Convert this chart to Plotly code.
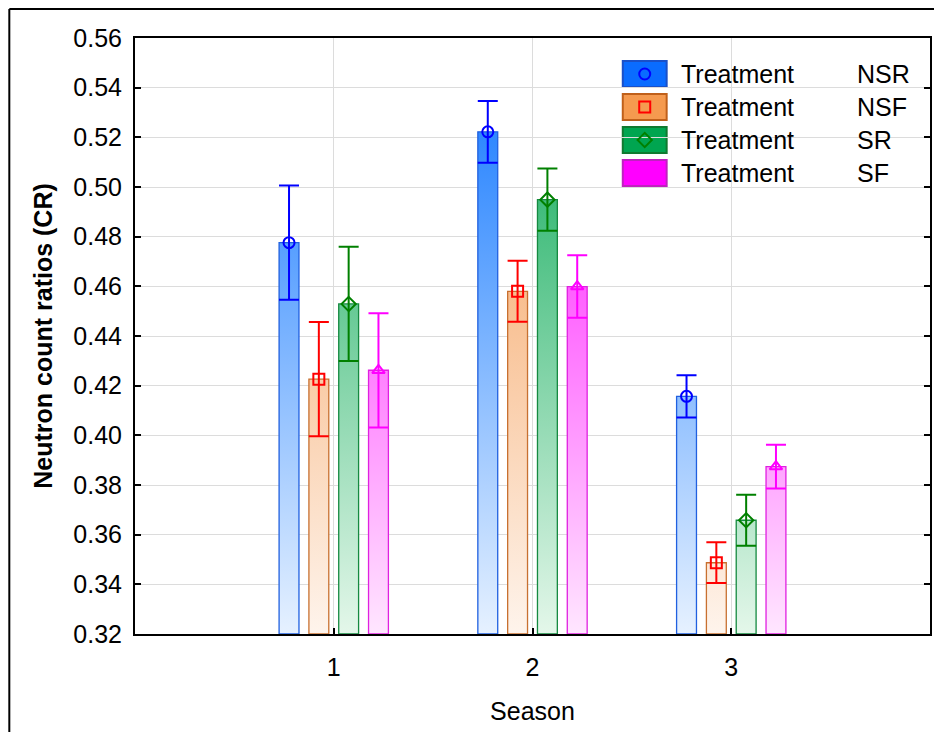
import plotly.graph_objects as go

# ---------------- data ----------------
seasons = [1, 2, 3]
season_labels = ["1", "2", "3"]
treatments = ["NSR", "NSF", "SR", "SF"]

nsr_mean = [0.4776, 0.5222, 0.4157]
nsr_err = [0.0230, 0.0124, 0.0085]
nsf_mean = [0.4226, 0.4580, 0.3487]
nsf_err = [0.0230, 0.0123, 0.0082]
sr_mean = [0.4529, 0.4949, 0.3658]
sr_err = [0.0230, 0.0125, 0.0103]
sf_mean = [0.4262, 0.4599, 0.3874]
sf_err = [0.0230, 0.0126, 0.0088]

y_tick_vals = [0.32, 0.34, 0.36, 0.38, 0.40, 0.42, 0.44, 0.46, 0.48, 0.50, 0.52, 0.54, 0.56]
y_tick_text = ["0.32", "0.34", "0.36", "0.38", "0.40", "0.42", "0.44", "0.46", "0.48", "0.50", "0.52", "0.54", "0.56"]

means = [nsr_mean, nsf_mean, sr_mean, sf_mean]
errs = [nsr_err, nsf_err, sr_err, sf_err]

# ---------------- style ----------------
Y_MIN, Y_MAX = 0.32, 0.56
X_MIN, X_MAX = 0, 4
offsets = [-0.225, -0.075, 0.075, 0.225]
bar_w = 0.1
full_col = ["#0C74FF", "#F4964A", "#00A550", "#FF00FF"]
pale_col = ["#E6F1FF", "#FEF4EC", "#E4F7EA", "#FFE6FF"]
edge_col = ["#2060E0", "#C87030", "#158A40", "#E020E0"]
err_col = ["#0000FF", "#FF0000", "#008000", "#FF00FF"]
symbols = ["circle-open", "square-open", "diamond-open", "triangle-up-open"]
legend_box = ["#0A6CFF", "#F59A4F", "#00A550", "#FF00FF"]
legend_edge = ["#1A50C8", "#C0601A", "#107A30", "#C020C0"]
legend_mark = ["circle-open", "square-open", "diamond-open", None]
legend_mark_col = ["#0000FF", "#FF0000", "#008000", None]
FS = 25

# page body adds an 8px offset on every side; geometry below is in window pixels
OFF = 8
W, H = 942 - 2 * OFF, 740 - 2 * OFF
PL, PR, PT, PB = 135, 932, 38, 634        # plot area in window pixels
ML, MT = PL - OFF, PT - OFF
MR, MB = W - (PR - OFF), H - (PB - OFF)
PW = PR - PL
PH = PB - PT


def px_x(px):
    return (px - PL) / PW


def px_y(py):
    return (PB - py) / PH


fig = go.Figure()

# bars with vertical gradient (absolute along the y axis)
for i, name in enumerate(treatments):
    for j, s in enumerate(seasons):
        c = s + offsets[i]
        v = means[i][j]
        fig.add_trace(go.Scatter(
            x=[c - bar_w / 2, c - bar_w / 2, c + bar_w / 2, c + bar_w / 2, c - bar_w / 2],
            y=[Y_MIN, v, v, Y_MIN, Y_MIN],
            mode="lines",
            fill="toself",
            fillgradient=dict(type="vertical",
                              colorscale=[[0, pale_col[i]], [1, full_col[i]]],
                              start=Y_MIN, stop=Y_MAX),
            line=dict(color=edge_col[i], width=1.3),
            hoverinfo="skip",
            showlegend=False,
        ))

# means with error bars
for i, name in enumerate(treatments):
    fig.add_trace(go.Scatter(
        x=[s + offsets[i] for s in seasons],
        y=means[i],
        mode="markers",
        name="Treatment " + name,
        marker=dict(symbol=symbols[i], size=11, color=err_col[i],
                    line=dict(color=err_col[i], width=2)),
        error_y=dict(type="data", array=errs[i], color=err_col[i],
                     thickness=2, width=10),
        showlegend=False,
    ))

# manual legend
shapes = []
annotations = []
row_top = [61, 94, 127, 160]
box_h = 26
box_x0, box_x1 = 624, 668
for i, name in enumerate(treatments):
    y0 = row_top[i]
    shapes.append(dict(type="rect", xref="paper", yref="paper", layer="between",
                       x0=px_x(box_x0), x1=px_x(box_x1),
                       y0=px_y(y0 + box_h), y1=px_y(y0),
                       fillcolor=legend_box[i],
                       line=dict(color=legend_edge[i], width=2)))
    yc = px_y(y0 + box_h / 2)
    annotations.append(dict(xref="paper", yref="paper", x=px_x(680), y=yc,
                            text="Treatment", showarrow=False, xanchor="left",
                            yanchor="middle", font=dict(size=FS, color="black")))
    annotations.append(dict(xref="paper", yref="paper", x=px_x(857), y=yc,
                            text=name, showarrow=False, xanchor="left",
                            yanchor="middle", font=dict(size=FS, color="black")))
    if legend_mark[i]:
        fig.add_trace(go.Scatter(
            x=[px_x((box_x0 + box_x1) / 2)], y=[yc], xaxis="x2", yaxis="y2",
            mode="markers",
            marker=dict(symbol=legend_mark[i], size=11, color=legend_mark_col[i],
                        line=dict(color=legend_mark_col[i], width=2)),
            hoverinfo="skip", showlegend=False,
        ))

# outer frame (top and left edges)
FR = OFF + 1
shapes.append(dict(type="line", xref="paper", yref="paper",
                   x0=px_x(FR), x1=px_x(990), y0=px_y(FR), y1=px_y(FR),
                   line=dict(color="black", width=2)))
shapes.append(dict(type="line", xref="paper", yref="paper",
                   x0=px_x(FR), x1=px_x(FR), y0=px_y(FR), y1=px_y(790),
                   line=dict(color="black", width=2)))

fig.update_layout(
    width=W, height=H,
    margin=dict(l=ML, r=MR, t=MT, b=MB),
    paper_bgcolor="white", plot_bgcolor="white",
    font=dict(family="Liberation Sans, Arial, sans-serif", size=FS, color="black"),
    showlegend=False,
    shapes=shapes,
    annotations=annotations,
    xaxis=dict(range=[X_MIN, X_MAX], tickvals=seasons, ticktext=season_labels,
               showgrid=True, gridcolor="#DCDCDC", gridwidth=1,
               ticks="inside", ticklen=6, tickcolor="black", tickwidth=2,
               showline=True, linecolor="black", linewidth=2, mirror=True,
               zeroline=False, ticklabelstandoff=10,
               title=dict(text="Season", standoff=22, font=dict(size=FS))),
    yaxis=dict(range=[Y_MIN, Y_MAX], tickvals=y_tick_vals, ticktext=y_tick_text,
               showgrid=True, gridcolor="#DCDCDC", gridwidth=1,
               ticks="inside", ticklen=6, tickcolor="black", tickwidth=2,
               showline=True, linecolor="black", linewidth=2, mirror="ticks",
               zeroline=False, ticklabelstandoff=6,
               title=dict(text="<b>Neutron count ratios (CR)</b>", standoff=14,
                          font=dict(size=FS))),
    xaxis2=dict(range=[0, 1], overlaying="x", visible=False),
    yaxis2=dict(range=[0, 1], overlaying="y", visible=False),
)

fig.write_html("out.html")
